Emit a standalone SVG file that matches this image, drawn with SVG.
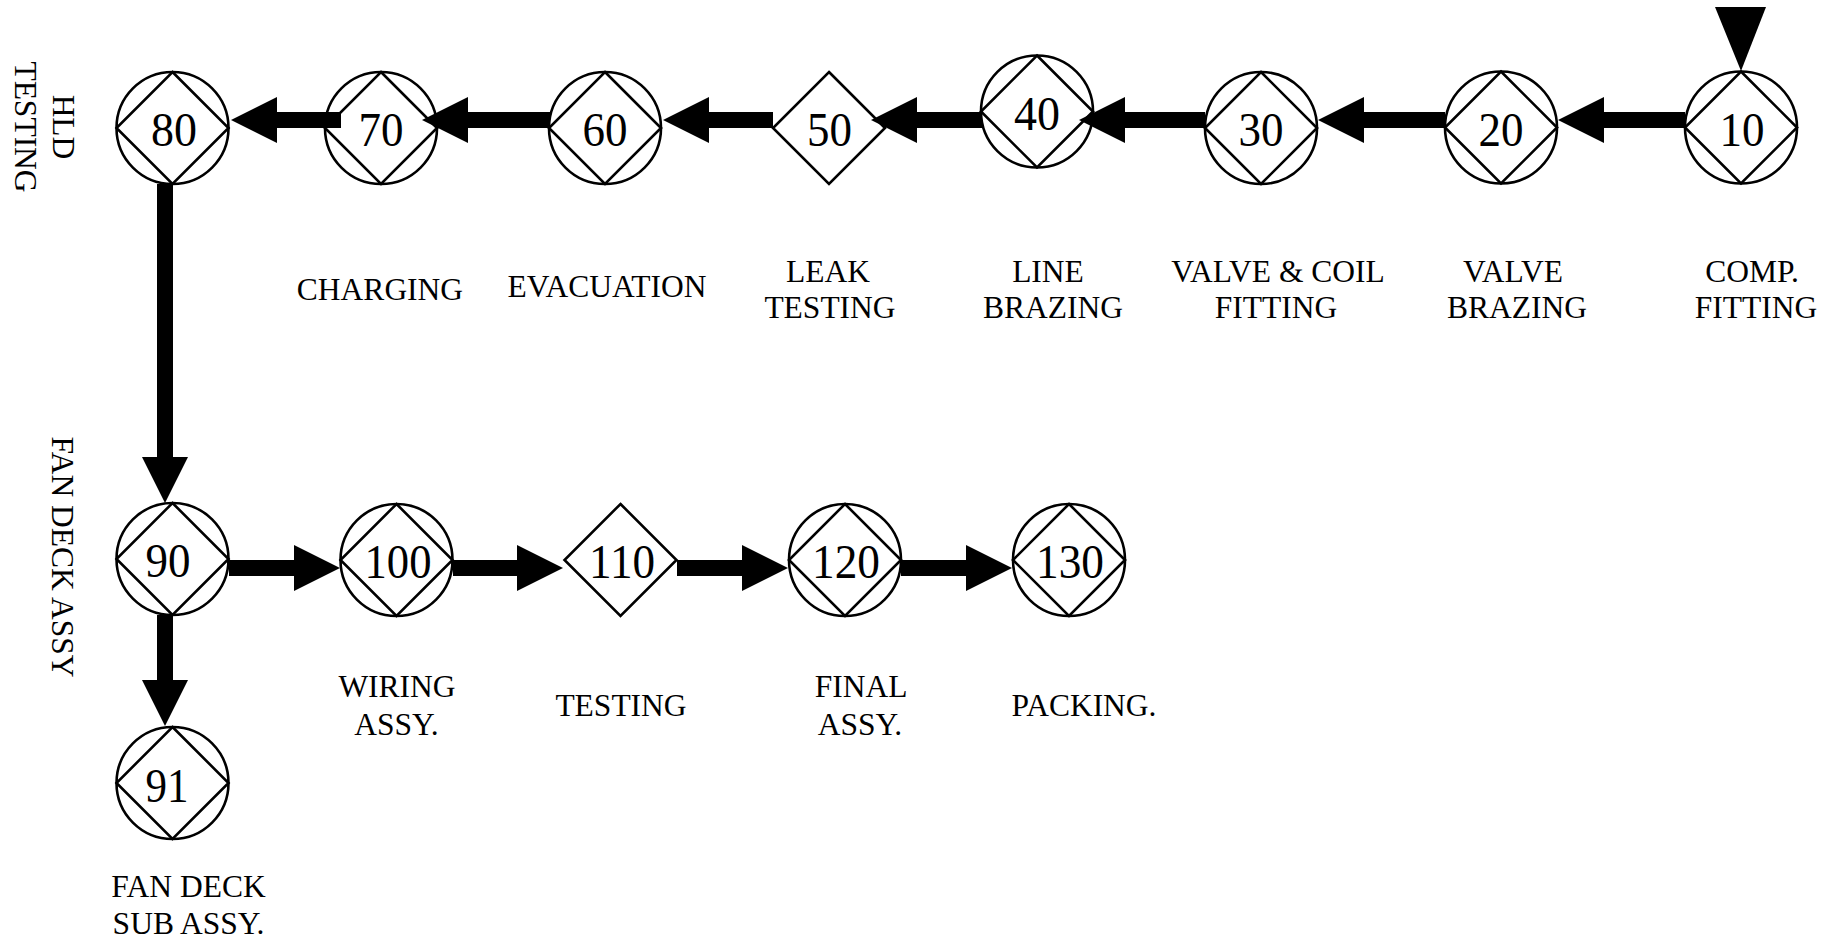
<svg xmlns="http://www.w3.org/2000/svg" width="1837" height="940" viewBox="0 0 1837 940">
<style>
  .ring{fill:none;stroke:#000;stroke-width:2.6}
  .dia{fill:none;stroke:#000;stroke-width:2.6;stroke-linejoin:miter}
  .num{font-family:"Liberation Serif","Times New Roman",serif;font-size:49px;fill:#000;text-anchor:middle}
  .lbl{font-family:"Liberation Serif","Times New Roman",serif;font-size:31.5px;fill:#000;text-anchor:middle}
  .conn{stroke:#000;stroke-width:16;fill:none;marker-end:url(#head)}
</style>
<defs>
  <marker id="head" viewBox="0 0 46 46" refX="0" refY="23" markerWidth="46" markerHeight="46" markerUnits="userSpaceOnUse" orient="auto">
    <path d="M0,0 L46,23 L0,46 Z" fill="#000"/>
  </marker>
</defs>
<rect width="1837" height="940" fill="#fff"/>

<g id="node-10">
  <circle class="ring" cx="1741" cy="127.5" r="56"/>
  <polygon class="dia" points="1741,71.5 1797,127.5 1741,183.5 1685,127.5"/>
  <text class="num" x="1742" y="146" textLength="45" lengthAdjust="spacingAndGlyphs">10</text>
  <text class="lbl"><tspan x="1752" y="282">COMP.</tspan><tspan x="1756" y="318">FITTING</tspan></text>
</g>
<g id="node-20">
  <circle class="ring" cx="1501" cy="127.5" r="56"/>
  <polygon class="dia" points="1501,71.5 1557,127.5 1501,183.5 1445,127.5"/>
  <text class="num" x="1501" y="146" textLength="45" lengthAdjust="spacingAndGlyphs">20</text>
  <text class="lbl"><tspan x="1513" y="282">VALVE</tspan><tspan x="1517" y="318">BRAZING</tspan></text>
</g>
<g id="node-30">
  <circle class="ring" cx="1261" cy="128" r="56"/>
  <polygon class="dia" points="1261,72 1317,128 1261,184 1205,128"/>
  <text class="num" x="1261" y="146" textLength="45" lengthAdjust="spacingAndGlyphs">30</text>
  <text class="lbl"><tspan x="1278" y="282">VALVE &amp; COIL</tspan><tspan x="1276" y="318">FITTING</tspan></text>
</g>
<g id="node-40">
  <circle class="ring" cx="1037" cy="111.5" r="56"/>
  <polygon class="dia" points="1037,55.5 1093,111.5 1037,167.5 981,111.5"/>
  <text class="num" x="1037" y="130" textLength="46" lengthAdjust="spacingAndGlyphs">40</text>
  <text class="lbl"><tspan x="1048" y="282">LINE</tspan><tspan x="1053" y="318">BRAZING</tspan></text>
</g>
<g id="node-50">
  <polygon class="dia" points="829,72 885,128 829,184 773,128"/>
  <text class="num" x="829.5" y="146" textLength="45" lengthAdjust="spacingAndGlyphs">50</text>
  <text class="lbl"><tspan x="828" y="282">LEAK</tspan><tspan x="830" y="318">TESTING</tspan></text>
</g>
<g id="node-60">
  <circle class="ring" cx="605" cy="128" r="56"/>
  <polygon class="dia" points="605,72 661,128 605,184 549,128"/>
  <text class="num" x="605" y="146" textLength="45" lengthAdjust="spacingAndGlyphs">60</text>
  <text class="lbl" x="607" y="297">EVACUATION</text>
</g>
<g id="node-70">
  <circle class="ring" cx="381" cy="128" r="56"/>
  <polygon class="dia" points="381,72 437,128 381,184 325,128"/>
  <text class="num" x="381" y="146" textLength="45" lengthAdjust="spacingAndGlyphs">70</text>
  <text class="lbl" x="380" y="300">CHARGING</text>
</g>
<g id="node-80">
  <circle class="ring" cx="172.5" cy="128" r="56"/>
  <polygon class="dia" points="172.5,72 228.5,128 172.5,184 116.5,128"/>
  <text class="num" x="174" y="146" textLength="46" lengthAdjust="spacingAndGlyphs">80</text>
  <text class="lbl" transform="translate(53,127) rotate(90)" x="0" y="0">HLD</text>
  <text class="lbl" transform="translate(15,127) rotate(90)" x="0" y="0">TESTING</text>
</g>
<g id="node-90">
  <circle class="ring" cx="172.5" cy="559" r="56"/>
  <polygon class="dia" points="172.5,503 228.5,559 172.5,615 116.5,559"/>
  <text class="num" x="168" y="577" textLength="45" lengthAdjust="spacingAndGlyphs">90</text>
  <text class="lbl" transform="translate(52,557) rotate(90)" x="0" y="0">FAN DECK ASSY</text>
</g>
<g id="node-91">
  <circle class="ring" cx="172.5" cy="783" r="56"/>
  <polygon class="dia" points="172.5,727 228.5,783 172.5,839 116.5,783"/>
  <text class="num" x="167" y="802" textLength="43" lengthAdjust="spacingAndGlyphs">91</text>
  <text class="lbl"><tspan x="188.5" y="897">FAN DECK</tspan><tspan x="188.5" y="934">SUB ASSY.</tspan></text>
</g>
<g id="node-100">
  <circle class="ring" cx="396.5" cy="560" r="56"/>
  <polygon class="dia" points="396.5,504 452.5,560 396.5,616 340.5,560"/>
  <text class="num" x="398" y="578" textLength="67" lengthAdjust="spacingAndGlyphs">100</text>
  <text class="lbl"><tspan x="397" y="697">WIRING</tspan><tspan x="396.5" y="735">ASSY.</tspan></text>
</g>
<g id="node-110">
  <polygon class="dia" points="620.5,504 676.5,560 620.5,616 564.5,560"/>
  <text class="num" x="622" y="578" textLength="66" lengthAdjust="spacingAndGlyphs">110</text>
  <text class="lbl" x="621" y="716">TESTING</text>
</g>
<g id="node-120">
  <circle class="ring" cx="845" cy="560" r="56"/>
  <polygon class="dia" points="845,504 901,560 845,616 789,560"/>
  <text class="num" x="846" y="578" textLength="68" lengthAdjust="spacingAndGlyphs">120</text>
  <text class="lbl"><tspan x="861" y="697">FINAL</tspan><tspan x="860" y="735">ASSY.</tspan></text>
</g>
<g id="node-130">
  <circle class="ring" cx="1069" cy="560" r="56"/>
  <polygon class="dia" points="1069,504 1125,560 1069,616 1013,560"/>
  <text class="num" x="1070" y="578" textLength="68" lengthAdjust="spacingAndGlyphs">130</text>
  <text class="lbl" x="1084" y="716">PACKING.</text>
</g>

<g id="connectors">
  <polygon points="1715,7 1766,7 1741,71" fill="#000"/>
  <line class="conn" x1="1685" y1="120" x2="1604" y2="120"/>
  <line class="conn" x1="1445" y1="120" x2="1364" y2="120"/>
  <line class="conn" x1="1205" y1="120" x2="1125" y2="120"/>
  <line class="conn" x1="982" y1="120" x2="917" y2="120"/>
  <line class="conn" x1="773" y1="120" x2="709" y2="120"/>
  <line class="conn" x1="550" y1="120" x2="468" y2="120"/>
  <line class="conn" x1="341" y1="120" x2="277" y2="120"/>
  <line class="conn" x1="165" y1="184" x2="165" y2="457"/>
  <line class="conn" x1="165" y1="615" x2="165" y2="680"/>
  <line class="conn" x1="229" y1="568" x2="294" y2="568"/>
  <line class="conn" x1="453" y1="568" x2="517" y2="568"/>
  <line class="conn" x1="677" y1="568" x2="742" y2="568"/>
  <line class="conn" x1="901" y1="568" x2="966" y2="568"/>
</g>
</svg>
